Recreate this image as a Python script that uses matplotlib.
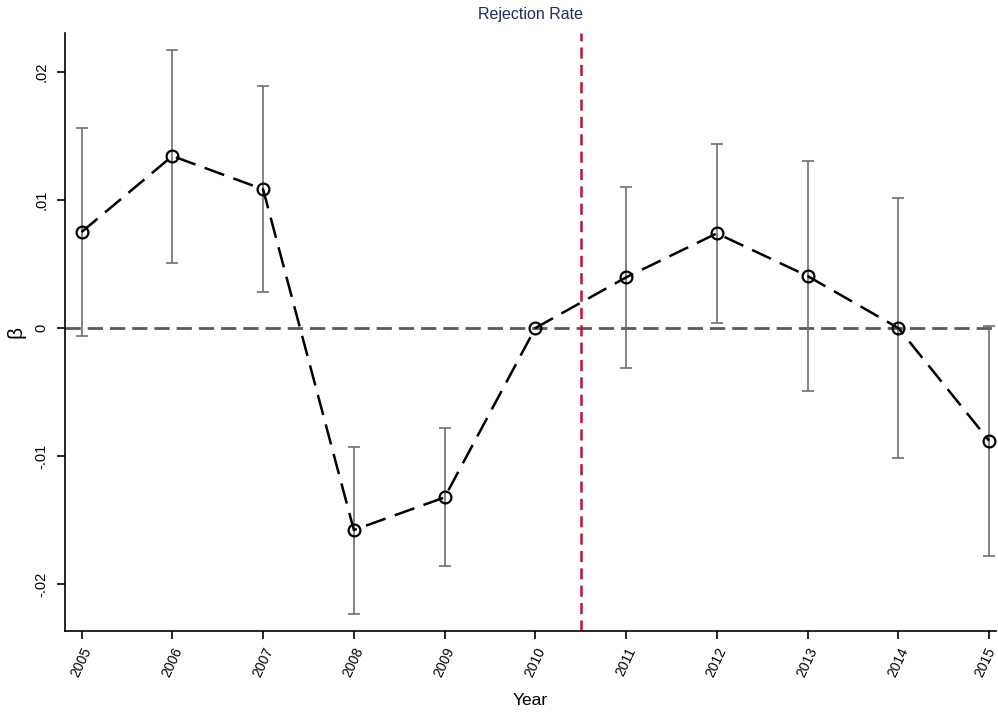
import matplotlib
matplotlib.use("Agg")
from matplotlib import pyplot as plt
from matplotlib.transforms import ScaledTranslation
import numpy as np

plt.rcParams['font.family'] = ['Liberation Sans', 'DejaVu Sans']
plt.rcParams['lines.scale_dashes'] = False

years = [2005, 2006, 2007, 2008, 2009, 2010, 2011, 2012, 2013, 2014, 2015]
beta = [0.0075, 0.01344, 0.01084, -0.01578, -0.01323, 0.0, 0.00396, 0.0074, 0.00406, 0.0, -0.0088]
ci_hi = [0.01563, 0.02172, 0.01891, -0.0093, -0.00784, np.nan, 0.01102, 0.01435, 0.01302, 0.01013, 0.00016]
ci_lo = [-0.000625, 0.0051, 0.00279, -0.02232, -0.01859, np.nan, -0.00315, 0.00039, -0.0049, -0.01018, -0.01779]
treat_year = 2010.5

yr = np.array(years, dtype=float)
b = np.array(beta)
hi = np.array(ci_hi)
lo = np.array(ci_lo)

fig = plt.figure(figsize=(9.98, 7.13), dpi=100)
ax = fig.add_axes([0.0651, 0.115, 0.933, 0.8387])

# reference lines
ax.axhline(0, color='#5a5a5a', lw=2, dashes=(11, 5), zorder=1)
ax.axvline(treat_year, color='#c8102e', lw=1.8, dashes=(8, 4.5), zorder=2)

# confidence intervals
ok = ~np.isnan(hi)
ax.errorbar(yr[ok], (hi[ok] + lo[ok]) / 2, yerr=(hi[ok] - lo[ok]) / 2, fmt='none',
            ecolor='#6e6e6e', elinewidth=1.2, capsize=4.5, capthick=1.2, zorder=3)

# point estimates
ax.plot(yr, b, color='black', lw=1.8, dashes=(15, 7), marker='o', markersize=8.5,
        markerfacecolor='none', markeredgecolor='black', markeredgewidth=1.6, zorder=4)

ax.set_xlim(2004.817, 2015.077)
ax.set_ylim(-0.02367, 0.02305)
ax.set_xticks(years)
ax.set_xticklabels([str(y) for y in years], rotation=65, ha='right',
                   rotation_mode='anchor', fontsize=10)
ax.set_yticks([-0.02, -0.01, 0, 0.01, 0.02])
ax.set_yticklabels(['-.02', '-.01', '0', '.01', '.02'], rotation=90, va='center', fontsize=10.5)
ax.tick_params(direction='out', length=6, width=1.2, colors='black')
ax.tick_params(axis='x', pad=4)
ax.tick_params(axis='y', pad=6)

# keep the last year label inside the canvas
last = ax.get_xticklabels()[-1]
last.set_transform(last.get_transform() + ScaledTranslation(-4 / 100, 0, fig.dpi_scale_trans))

for s in ['top', 'right']:
    ax.spines[s].set_visible(False)
for s in ['left', 'bottom']:
    ax.spines[s].set_linewidth(1.2)

ax.set_xlabel('Year', fontsize=12.5, labelpad=10)
ax.set_ylabel('β', fontsize=15, labelpad=6)
ax.set_title('Rejection Rate', fontsize=11.5, color='#1f2d5c', pad=10)

fig.savefig('out.png', dpi=100)
